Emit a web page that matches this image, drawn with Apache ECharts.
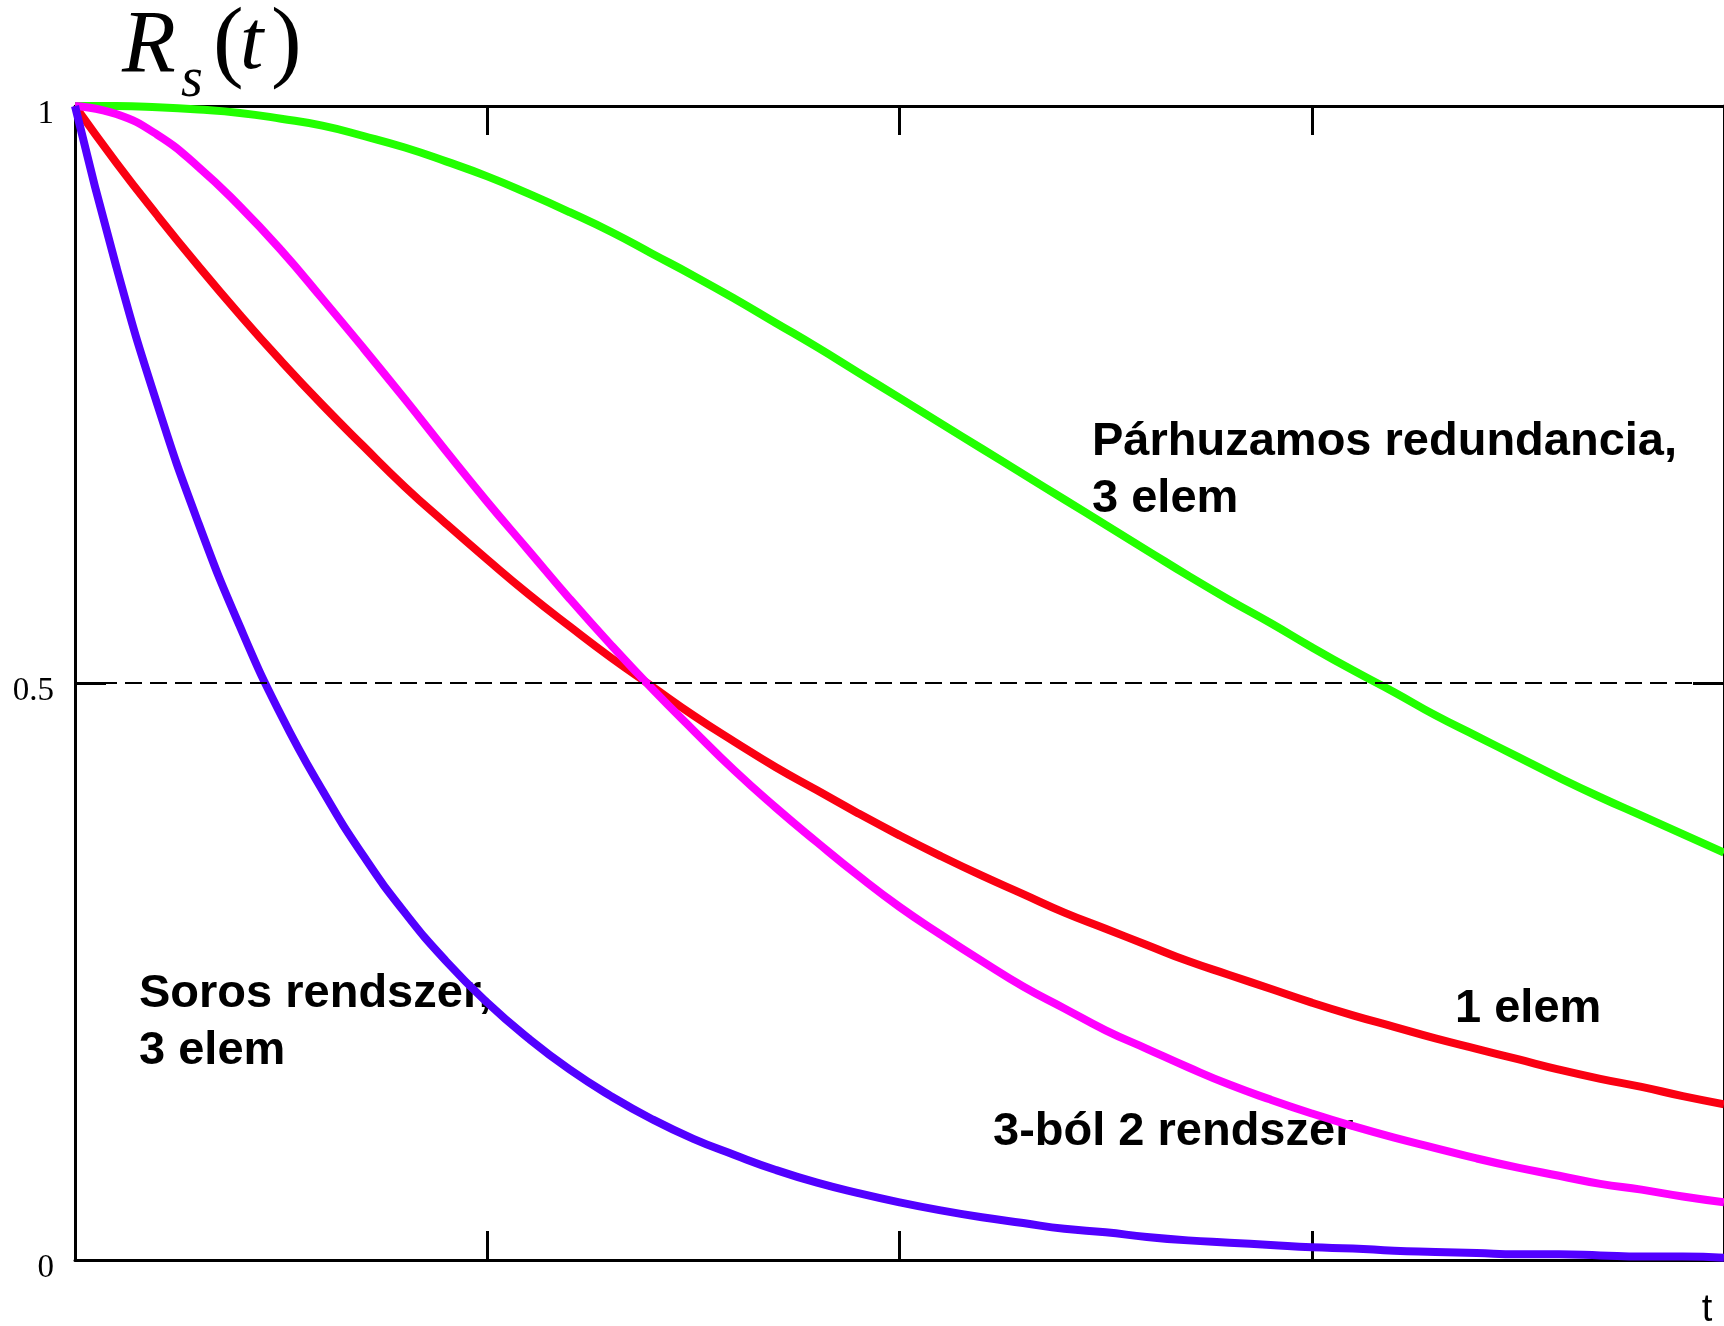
<!DOCTYPE html>
<html>
<head>
<meta charset="utf-8">
<script src="https://cdn.jsdelivr.net/npm/echarts@6/dist/echarts.min.js"></script>
<style>
  html, body { margin: 0; padding: 0; background: #fff; }
  #chart { width: 1724px; height: 1326px; }
</style>
</head>
<body>
<div id="chart"></div>
<script>
// t values, step 0.05 from 0 to 2
const tValues = [
  0, 0.05, 0.1, 0.15, 0.2, 0.25, 0.3, 0.35, 0.4, 0.45, 0.5, 0.55, 0.6, 0.65, 0.7, 0.75, 0.8,
  0.85, 0.9, 0.95, 1, 1.05, 1.1, 1.15, 1.2, 1.25, 1.3, 1.35, 1.4, 1.45, 1.5, 1.55, 1.6, 1.65,
  1.7, 1.75, 1.8, 1.85, 1.9, 1.95, 2
];

// 1 elem
const egyElem = [
  1.000, 0.951, 0.905, 0.861, 0.819, 0.779, 0.741, 0.705, 0.670, 0.638, 0.607, 0.577, 0.549,
  0.522, 0.497, 0.472, 0.449, 0.427, 0.407, 0.387, 0.368, 0.350, 0.333, 0.317, 0.301, 0.287,
  0.273, 0.259, 0.247, 0.235, 0.223, 0.212, 0.202, 0.192, 0.183, 0.174, 0.165, 0.157, 0.150,
  0.142, 0.135
];

// Soros rendszer, 3 elem
const soros = [
  1.000, 0.861, 0.741, 0.638, 0.549, 0.472, 0.407, 0.350, 0.301, 0.259, 0.223, 0.192, 0.165,
  0.142, 0.122, 0.105, 0.091, 0.078, 0.067, 0.058, 0.050, 0.043, 0.037, 0.032, 0.027, 0.024,
  0.020, 0.017, 0.015, 0.013, 0.011, 0.010, 0.008, 0.007, 0.006, 0.005, 0.005, 0.004, 0.003,
  0.003, 0.002
];

// Párhuzamos redundancia, 3 elem
const parhuzamos = [
  1.000, 1.000, 0.999, 0.997, 0.994, 0.989, 0.983, 0.974, 0.964, 0.952, 0.939, 0.924, 0.908,
  0.891, 0.872, 0.853, 0.833, 0.812, 0.791, 0.769, 0.747, 0.725, 0.703, 0.681, 0.659, 0.637,
  0.615, 0.593, 0.572, 0.552, 0.531, 0.511, 0.492, 0.472, 0.454, 0.436, 0.418, 0.401, 0.385,
  0.369, 0.353
];

// 3-ból 2 rendszer
const haromBolKetto = [
  1.000, 0.993, 0.975, 0.947, 0.913, 0.875, 0.833, 0.790, 0.746, 0.701, 0.657, 0.615, 0.573,
  0.533, 0.495, 0.459, 0.424, 0.392, 0.362, 0.333, 0.306, 0.282, 0.259, 0.237, 0.218, 0.199,
  0.183, 0.167, 0.152, 0.139, 0.127, 0.116, 0.106, 0.097, 0.088, 0.080, 0.073, 0.066, 0.061,
  0.055, 0.050
];

const yTicks = [0, 0.5, 1];

const pairs = (ys) => tValues.map((t, i) => [t, ys[i]]);

const chart = echarts.init(document.getElementById("chart"));

const lineSeries = (name, data, color) => ({
  name,
  type: "line",
  data: pairs(data),
  showSymbol: false,
  smooth: 0.5,
  clip: false,
  lineStyle: { width: 8, color },
  itemStyle: { color },
});

const tickStyle = { show: true, inside: true, length: 29, lineStyle: { color: "#000", width: 3 } };
const lineStyleAxis = { show: true, onZero: false, lineStyle: { color: "#000", width: 3 } };
const labelFont = "bold 47px 'Liberation Sans'";

chart.setOption({
  animation: false,
  backgroundColor: "#fff",
  grid: { left: 75, top: 106, width: 1656, height: 1154 },
  xAxis: [
    {
      type: "value", min: 0, max: 2, interval: 0.5, position: "bottom",
      axisLine: lineStyleAxis, axisTick: tickStyle,
      axisLabel: { show: false }, splitLine: { show: false },
    },
    {
      type: "value", min: 0, max: 2, interval: 0.5, position: "top",
      axisLine: lineStyleAxis, axisTick: tickStyle,
      axisLabel: { show: false }, splitLine: { show: false },
    },
  ],
  yAxis: [
    {
      type: "value", min: 0, max: 1, interval: 0.5, position: "left",
      axisLine: lineStyleAxis, axisTick: { ...tickStyle, length: 31 },
      splitLine: { show: false },
      axisLabel: {
        color: "#000", fontFamily: "Liberation Serif", fontSize: 33, margin: 21,
        verticalAlign: "top", lineHeight: 16,
        formatter: (v) => (yTicks.includes(v) ? String(v) : ""),
      },
    },
    {
      type: "value", min: 0, max: 1, interval: 0.5, position: "right",
      axisLine: lineStyleAxis, axisTick: { ...tickStyle, length: 31 },
      splitLine: { show: false }, axisLabel: { show: false },
    },
  ],
  series: [
    {
      ...lineSeries("Párhuzamos redundancia, 3 elem", parhuzamos, "#22ff00"),
      markLine: {
        silent: true, symbol: "none", label: { show: false },
        lineStyle: { color: "#000", width: 2, type: [17, 8] },
        data: [{ yAxis: 0.5 }],
      },
    },
    lineSeries("1 elem", egyElem, "#fa0012"),
    lineSeries("3-ból 2 rendszer", haromBolKetto, "#ff00ff"),
    lineSeries("Soros rendszer, 3 elem", soros, "#5200ff"),
  ],
  graphic: [
    // R_s(t) title
    { type: "text", x: 122, y: 48, style: { text: "R", font: "italic 88px 'Liberation Serif'", fill: "#000", verticalAlign: "middle" } },
    { type: "text", x: 181, y: 81, style: { text: "s", font: "italic 56px 'Liberation Serif'", fill: "#000", verticalAlign: "middle" } },
    { type: "text", x: 213, y: 46, style: { text: "(", font: "92px 'Liberation Serif'", fill: "#000", verticalAlign: "middle" } },
    { type: "text", x: 240, y: 46, style: { text: "t", font: "italic 84px 'Liberation Serif'", fill: "#000", verticalAlign: "middle" } },
    { type: "text", x: 271, y: 46, style: { text: ")", font: "92px 'Liberation Serif'", fill: "#000", verticalAlign: "middle" } },
    // curve labels
    { type: "text", x: 1092, y: 442, style: { text: "Párhuzamos redundancia,", font: labelFont, fill: "#000", verticalAlign: "middle" } },
    { type: "text", x: 1092, y: 499, style: { text: "3 elem", font: labelFont, fill: "#000", verticalAlign: "middle" } },
    { type: "text", x: 139, y: 994, style: { text: "Soros rendszer,", font: labelFont, fill: "#000", verticalAlign: "middle" } },
    { type: "text", x: 139, y: 1051, style: { text: "3 elem", font: labelFont, fill: "#000", verticalAlign: "middle" } },
    { type: "text", x: 1455, y: 1009, style: { text: "1 elem", font: labelFont, fill: "#000", verticalAlign: "middle" } },
    { type: "text", x: 993, y: 1132, style: { text: "3-ból 2 rendszer", font: labelFont, fill: "#000", verticalAlign: "middle" } },
    // axis name
    { type: "text", x: 1707, y: 1311, style: { text: "t", font: "38px 'Liberation Sans'", fill: "#000", align: "center", verticalAlign: "middle" } },
  ],
});
</script>
</body>
</html>
